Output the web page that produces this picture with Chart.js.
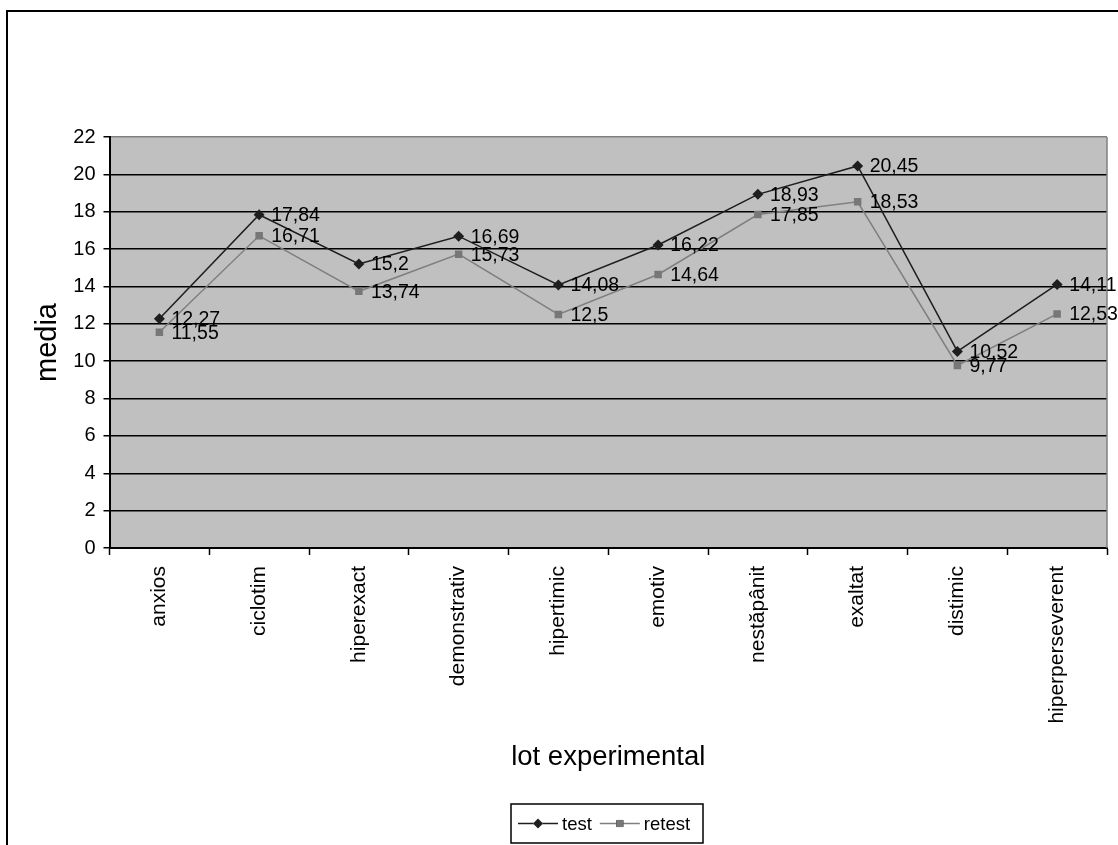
<!DOCTYPE html>
<html>
<head>
<meta charset="utf-8">
<script src="https://cdn.jsdelivr.net/npm/chart.js@4/dist/chart.umd.min.js"></script>
<style>
  html, body { margin: 0; padding: 0; background: #fff; }
  canvas { display: block; }
</style>
</head>
<body>
<canvas id="c" width="1118" height="845"></canvas>
<script>
const categories = ['anxios', 'ciclotim', 'hiperexact', 'demonstrativ', 'hipertimic', 'emotiv', 'nestăpânit', 'exaltat', 'distimic', 'hiperperseverent'];
const testValues = [12.27, 17.84, 15.2, 16.69, 14.08, 16.22, 18.93, 20.45, 10.52, 14.11];
const retestValues = [11.55, 16.71, 13.74, 15.73, 12.5, 14.64, 17.85, 18.53, 9.77, 12.53];
const seriesNames = ['test', 'retest'];
const yTitle = 'media';
const xTitle = 'lot experimental';

const FONT = "'Liberation Sans', Arial, sans-serif";
const testColor = '#1e1e1e';
const retestColor = '#7f7f7f';

function fmt(v) { return String(v).replace('.', ','); }

const decorPlugin = {
  id: 'decor',
  beforeDraw(chart) {
    const ctx = chart.ctx;
    const a = chart.chartArea;
    ctx.save();
    ctx.fillStyle = '#fff';
    ctx.fillRect(0, 0, chart.width, chart.height);
    ctx.strokeStyle = '#000';
    ctx.lineWidth = 2;
    ctx.beginPath();
    ctx.moveTo(7, chart.height + 5);
    ctx.lineTo(7, 11);
    ctx.lineTo(chart.width + 5, 11);
    ctx.stroke();
    ctx.fillStyle = '#c0c0c0';
    ctx.fillRect(a.left, a.top, a.right - a.left, a.bottom - a.top);
    ctx.restore();
  },
  afterDraw(chart) {
    const ctx = chart.ctx;
    const a = chart.chartArea;
    ctx.save();
    ctx.strokeStyle = '#808080';
    ctx.lineWidth = 1.5;
    ctx.beginPath();
    ctx.moveTo(a.right, a.top);
    ctx.lineTo(a.right, a.bottom);
    ctx.stroke();
    ctx.fillStyle = '#000';
    ctx.font = '19.5px ' + FONT;
    ctx.textAlign = 'left';
    ctx.textBaseline = 'middle';
    chart.data.datasets.forEach((ds, i) => {
      const meta = chart.getDatasetMeta(i);
      meta.data.forEach((pt, j) => {
        ctx.fillText(fmt(ds.data[j]), pt.x + 12, pt.y + 1);
      });
    });
    const bx = 511, by = 804, bw = 192, bh = 39;
    ctx.fillStyle = '#fff';
    ctx.fillRect(bx, by, bw, bh);
    ctx.strokeStyle = '#000';
    ctx.lineWidth = 1.5;
    ctx.strokeRect(bx, by, bw, bh);
    const cy = by + bh / 2;
    ctx.font = '18.5px ' + FONT;
    ctx.textBaseline = 'middle';
    let x = bx + 7;
    chart.data.datasets.forEach((ds, i) => {
      ctx.strokeStyle = ds.borderColor;
      ctx.lineWidth = 1.5;
      ctx.beginPath();
      ctx.moveTo(x, cy);
      ctx.lineTo(x + 40, cy);
      ctx.stroke();
      Chart.helpers.drawPoint(ctx, {
        pointStyle: ds.pointStyle,
        radius: 5,
        borderWidth: 0
      }, x + 20, cy);
      ctx.fillStyle = ds.pointBackgroundColor;
      ctx.fill();
      ctx.fillStyle = '#000';
      ctx.fillText(ds.label, x + 44, cy + 1);
      x += 44 + ctx.measureText(ds.label).width + 8;
    });
    ctx.restore();
  }
};

new Chart(document.getElementById('c'), {
  type: 'line',
  data: {
    labels: categories,
    datasets: [
      {
        label: seriesNames[0],
        data: testValues,
        borderColor: testColor,
        backgroundColor: testColor,
        pointBackgroundColor: testColor,
        pointBorderColor: testColor,
        pointStyle: 'rectRot',
        pointRadius: 5.5,
        pointBorderWidth: 0,
        borderWidth: 1.5,
        tension: 0,
        fill: false
      },
      {
        label: seriesNames[1],
        data: retestValues,
        borderColor: retestColor,
        backgroundColor: retestColor,
        pointBackgroundColor: '#777777',
        pointBorderColor: '#777777',
        pointStyle: 'rect',
        pointRadius: 5.3,
        pointBorderWidth: 0,
        borderWidth: 1.5,
        tension: 0,
        fill: false
      }
    ]
  },
  options: {
    responsive: false,
    animation: false,
    devicePixelRatio: 1,
    layout: { padding: { top: 137, right: 11, left: 0, bottom: 0 } },
    plugins: {
      legend: { display: false },
      tooltip: { enabled: false }
    },
    scales: {
      x: {
        offset: true,
        grid: {
          offset: true,
          drawOnChartArea: false,
          drawTicks: true,
          tickLength: 7,
          tickColor: '#000',
          tickWidth: 1.5
        },
        border: { display: true, color: '#000', width: 2 },
        ticks: {
          color: '#000',
          font: { family: FONT, size: 21 },
          minRotation: 90,
          maxRotation: 90,
          padding: 11,
          autoSkip: false
        },
        title: {
          display: true,
          text: xTitle,
          color: '#000',
          font: { family: FONT, size: 27.5 },
          padding: { top: 71, bottom: 71 }
        },
        afterFit(scale) { scale.height = 297; }
      },
      y: {
        min: 0,
        max: 22,
        grid: {
          color: (c) => (c.tick && c.tick.value === 22 ? '#808080' : '#000'),
          lineWidth: 1.5,
          tickLength: 6,
          tickColor: '#000',
          tickWidth: 1.5
        },
        border: { display: true, color: '#000', width: 2 },
        ticks: {
          stepSize: 2,
          color: '#000',
          font: { family: FONT, size: 20 },
          padding: 8
        },
        title: {
          display: true,
          text: yTitle,
          color: '#000',
          font: { family: FONT, size: 29 },
          padding: { top: 31, bottom: 31 }
        },
        afterFit(scale) { scale.width = 109.5; }
      }
    }
  },
  plugins: [decorPlugin]
});
</script>
</body>
</html>
